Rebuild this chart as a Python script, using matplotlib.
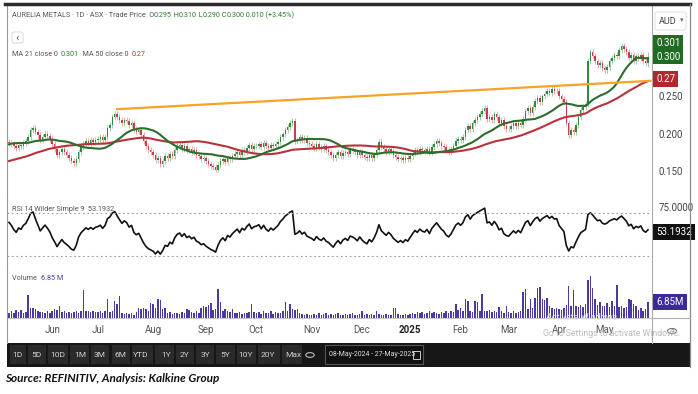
import numpy as np
import pandas as pd
import matplotlib
matplotlib.use("Agg")
import matplotlib.pyplot as plt
from matplotlib.patches import Rectangle, FancyBboxPatch, Circle
from matplotlib.lines import Line2D

plt.rcParams['font.family'] = ['Roboto', 'DejaVu Sans']

START, END = "2024-05-08", "2025-05-27"
ASX_HOLIDAYS = ["2024-06-10", "2024-12-25", "2024-12-26", "2025-01-01",
                "2025-01-27", "2025-04-18", "2025-04-21", "2025-04-25"]

# closes before the visible window, only used to warm up MA 50 / RSI
pre_close = [0.140, 0.142, 0.138, 0.141, 0.144, 0.143, 0.146, 0.145, 0.148, 0.144,
             0.142, 0.145, 0.147, 0.150, 0.148, 0.146, 0.149, 0.152, 0.150, 0.147,
             0.145, 0.148, 0.151, 0.153, 0.150, 0.149, 0.152, 0.155, 0.158,
             0.165, 0.172, 0.178, 0.182, 0.185, 0.188, 0.186, 0.190, 0.192, 0.189,
             0.187, 0.190, 0.188, 0.191, 0.189, 0.186, 0.188, 0.190, 0.187, 0.189]

close_may24 = [0.188, 0.186, 0.183, 0.181, 0.185, 0.184, 0.188, 0.190, 0.196, 0.205,
               0.208, 0.203, 0.198, 0.192, 0.196, 0.200, 0.197, 0.193]
close_jun24 = [0.186, 0.180, 0.172, 0.176, 0.180, 0.175, 0.172, 0.168, 0.163, 0.161,
               0.166, 0.176, 0.182, 0.186, 0.190, 0.188, 0.191, 0.189, 0.192]
close_jul24 = [0.193, 0.195, 0.192, 0.196, 0.208, 0.212, 0.222, 0.226, 0.222, 0.218,
               0.214, 0.219, 0.217, 0.212, 0.215, 0.206, 0.203, 0.205, 0.198, 0.190,
               0.183, 0.178, 0.175]
close_aug24 = [0.172, 0.165, 0.168, 0.160, 0.164, 0.170, 0.168, 0.173, 0.170, 0.178,
               0.183, 0.185, 0.180, 0.184, 0.178, 0.180, 0.176, 0.178, 0.172, 0.170,
               0.166, 0.167]
close_sep24 = [0.163, 0.160, 0.157, 0.155, 0.152, 0.158, 0.163, 0.166, 0.162, 0.168,
               0.166, 0.170, 0.173, 0.176, 0.172, 0.178, 0.176, 0.181, 0.185, 0.180,
               0.183]
close_oct24 = [0.184, 0.186, 0.182, 0.187, 0.183, 0.181, 0.185, 0.183, 0.186, 0.189,
               0.195, 0.199, 0.205, 0.209, 0.214, 0.217, 0.190, 0.192, 0.196, 0.191,
               0.194, 0.188, 0.186]
close_nov24 = [0.184, 0.181, 0.186, 0.182, 0.180, 0.183, 0.178, 0.176, 0.172, 0.168,
               0.172, 0.175, 0.170, 0.174, 0.176, 0.173, 0.178, 0.177, 0.175, 0.172,
               0.176]
close_dec24 = [0.172, 0.169, 0.167, 0.171, 0.168, 0.172, 0.178, 0.189, 0.182, 0.179,
               0.176, 0.180, 0.177, 0.172, 0.169, 0.166, 0.168, 0.165, 0.168, 0.166]
close_jan25 = [0.170, 0.174, 0.178, 0.176, 0.180, 0.178, 0.177, 0.180, 0.176, 0.182,
               0.186, 0.190, 0.187, 0.184, 0.182, 0.178, 0.176, 0.179, 0.184, 0.190,
               0.193]
close_feb25 = [0.191, 0.195, 0.205, 0.210, 0.206, 0.214, 0.218, 0.222, 0.226, 0.230,
               0.235, 0.220, 0.222, 0.218, 0.226, 0.222, 0.215, 0.218, 0.210, 0.207]
close_mar25 = [0.206, 0.210, 0.214, 0.211, 0.215, 0.212, 0.220, 0.230, 0.234, 0.228,
               0.236, 0.244, 0.248, 0.243, 0.250, 0.254, 0.258, 0.255, 0.260, 0.257,
               0.258]
close_apr25 = [0.250, 0.246, 0.242, 0.215, 0.198, 0.205, 0.202, 0.212, 0.222, 0.232,
               0.236, 0.240, 0.298, 0.310, 0.305, 0.298, 0.292, 0.295, 0.288]
close_may25 = [0.286, 0.290, 0.298, 0.302, 0.306, 0.304, 0.312, 0.318, 0.314, 0.310,
               0.302, 0.306, 0.298, 0.304, 0.302, 0.306, 0.298, 0.295, 0.300]

# volume, millions
vol_may24 = [2.2, 2.8, 2.0, 3.5, 2.5, 3.4, 2.0, 2.6, 10.0, 4.3, 4.5, 3.8, 2.8, 2.5, 2.4, 2.0, 2.8, 2.2]
vol_jun24 = [3.2, 4.0, 3.5, 5.3, 2.4, 2.8, 2.0, 2.6, 2.2, 2.5, 3.0, 2.2, 2.8, 12.0, 2.8, 3.0, 2.6, 3.2, 2.4]
vol_jul24 = [2.5, 3.0, 2.2, 3.0, 8.0, 2.5, 3.0, 7.5, 6.0, 9.4, 2.0, 1.8, 2.2, 1.6, 2.0, 1.5, 2.4,
             4.2, 3.8, 4.5, 4.0, 3.0, 6.5]
vol_aug24 = [6.0, 4.5, 8.0, 7.6, 4.0, 4.2, 2.0, 2.4, 1.8, 2.2, 2.0, 1.6, 2.4, 2.0, 4.0, 3.6, 2.5,
             2.2, 2.8, 2.0, 4.2, 5.0]
vol_sep24 = [4.8, 5.5, 6.5, 3.5, 4.0, 12.5, 6.7, 3.0, 4.0, 3.2, 2.5, 3.8, 2.2, 2.0, 2.4, 1.8, 2.2,
             2.0, 2.5, 6.0, 2.4]
vol_oct24 = [2.0, 2.4, 1.8, 3.0, 2.2, 2.0, 3.2, 1.8, 2.4, 2.0, 2.2, 3.0, 6.9, 3.0, 6.0, 4.0, 3.5,
             3.8, 2.0, 1.6, 1.4, 1.8, 1.5]
vol_nov24 = [1.4, 1.8, 1.2, 2.0, 1.5, 1.6, 2.2, 1.3, 1.8, 1.4, 1.6, 2.0, 1.2, 1.5, 1.8, 1.4, 1.6,
             2.2, 1.5, 1.3, 1.8]
vol_dec24 = [2.8, 1.4, 1.6, 1.2, 1.8, 1.5, 3.2, 1.6, 1.4, 1.2, 1.8, 1.5, 1.3, 4.5, 4.2, 1.6, 1.2,
             1.4, 1.8, 1.5]
vol_jan25 = [1.8, 2.2, 1.6, 2.5, 2.0, 2.4, 1.8, 2.2, 3.0, 2.0, 2.6, 2.2, 1.8, 2.4, 2.0, 2.8, 2.2,
             3.2, 2.4, 6.2, 3.5]
vol_feb25 = [4.5, 3.0, 8.0, 7.5, 3.0, 2.6, 7.2, 7.0, 3.2, 10.5, 3.0, 2.8, 3.4, 2.6, 3.0, 2.4, 4.7,
             2.8, 2.2, 5.0]
vol_mar25 = [2.5, 2.0, 2.8, 2.2, 2.4, 3.0, 11.0, 12.5, 4.0, 8.0, 4.2, 8.6, 13.0, 13.5, 8.0, 7.8,
             8.4, 5.0, 4.2, 3.8, 4.5]
vol_apr25 = [4.0, 3.5, 4.2, 5.5, 13.6, 5.0, 12.0, 5.2, 4.8, 5.5, 4.6, 6.0, 16.5, 18.0, 13.0, 8.0,
             5.6, 6.8, 5.0]
vol_may25 = [5.2, 6.5, 4.8, 7.2, 5.0, 14.0, 4.6, 5.0, 4.2, 4.8, 8.0, 7.8, 6.0, 5.2, 3.6, 4.2, 3.0,
             3.8, 6.85]

last_ohlc = {"O": 0.295, "H": 0.310, "L": 0.290, "C": 0.300}
ma21_last, ma50_last = 0.301, 0.27
rsi_last = 53.1932
vol_last = 6.85
trend_days = [45, 267]
trend_prices = [0.233, 0.271]

month_labels = ["Jun", "Jul", "Aug", "Sep", "Oct", "Nov", "Dec", "2025", "Feb", "Mar", "Apr", "May"]
toolbar = ["1D", "5D", "10D", "1M", "3M", "6M", "YTD", "1Y", "2Y", "3Y", "5Y", "10Y", "20Y", "Max"]
toolbar_x = [17, 36, 58, 80, 100, 121, 141, 166, 184, 205, 225, 246, 268, 293]

# ---------------------------------------------------------------- series
dates = pd.bdate_range(START, END)
dates = dates[~dates.isin(pd.to_datetime(ASX_HOLIDAYS))]
close = np.array(close_may24 + close_jun24 + close_jul24 + close_aug24 + close_sep24 + close_oct24
                 + close_nov24 + close_dec24 + close_jan25 + close_feb25 + close_mar25 + close_apr25
                 + close_may25)
vol = np.array(vol_may24 + vol_jun24 + vol_jul24 + vol_aug24 + vol_sep24 + vol_oct24 + vol_nov24
               + vol_dec24 + vol_jan25 + vol_feb25 + vol_mar25 + vol_apr25 + vol_may25)
assert len(close) == len(dates) == len(vol)
n = len(close)
x = np.arange(n)
full = pd.Series(pre_close + list(close))
npre = len(pre_close)
ma21 = full.rolling(21).mean().to_numpy()[npre:]
ma50 = full.rolling(50).mean().to_numpy()[npre:]
d = full.diff()
up = d.clip(lower=0).ewm(alpha=1 / 14, adjust=False).mean()
dn = (-d.clip(upper=0)).ewm(alpha=1 / 14, adjust=False).mean()
rsi = (100 - 100 / (1 + up / dn)).to_numpy()[npre:]
opn = np.concatenate([[pre_close[-1]], close[:-1]])
opn[-1] = last_ohlc["O"]

month_idx = pd.Series(x, index=dates).groupby(dates.to_period("M")).first().to_numpy()[1:]

# ---------------------------------------------------------------- layout
W, H = 698, 394
fig = plt.figure(figsize=(W / 100, H / 100), dpi=100)
fx = lambda px: px / W
fy = lambda py: 1 - py / H
L, R = 7, 652
ax = fig.add_axes([fx(L), fy(197), fx(R - L), 192 / H])
ax_rsi = fig.add_axes([fx(L), fy(266), fx(R - L), 69 / H])
ax_vol = fig.add_axes([fx(L), fy(318), fx(R - L), 52 / H])

GRAY = "#555555"
GREEN, RED, PURPLE = "#2e7d32", "#c62828", "#4a3aa3"
HDR = 5.2
for a in (ax, ax_rsi, ax_vol):
    a.set_xlim(-0.83, n + 0.67)
    a.spines["top"].set_visible(False)
    a.spines["left"].set_color("#999999")
    a.spines["right"].set_color("#aaaaaa")
    a.spines["bottom"].set_color("#dddddd")
    a.yaxis.tick_right()
    a.tick_params(axis="y", length=0, pad=5, labelsize=7, colors="#444444")
    a.tick_params(axis="x", length=0)
ax.set_xticks([]); ax_rsi.set_xticks([])

# ---------------------------------------------------------------- price panel
ax.set_ylim(0.1151, 0.3728)
WICK = 0.004
for i in range(n):
    o, c = opn[i], close[i]
    col = "#2f8a3c" if c >= o else "#cc3b47"
    lo, hi = min(o, c), max(o, c)
    if i == n - 1:
        wl, wh = last_ohlc["L"], last_ohlc["H"]
    else:
        wl, wh = lo - WICK, hi + WICK
    ax.vlines(i, wl, wh, color=col, lw=0.5, alpha=0.6)
    ax.bar(i, max(hi - lo, 0.0008), bottom=lo, width=0.62, color=col, lw=0)
ax.plot(x, ma50, color="#b8323c", lw=1.5)
ax.plot(x, ma21, color="#2b6e2b", lw=1.5)
ax.plot(trend_days, trend_prices, color="#f7a325", lw=1.6)
ax.set_yticks([0.15, 0.20, 0.25], ["0.150", "0.200", "0.250"])

# last-value boxes on the price scale
ax.annotate(f"{ma21_last:.3f}\n{last_ohlc['C']:.3f}", xy=(1, last_ohlc["C"]), xycoords=("axes fraction", "data"),
            xytext=(3, 7), textcoords="offset points", ha="left", va="center", fontsize=7, color="white",
            linespacing=1.5, bbox=dict(boxstyle="square,pad=0.3", fc="#1e6b24", ec="none"))
ax.annotate(f"{ma50_last:.2f}", xy=(1, ma50_last), xycoords=("axes fraction", "data"),
            xytext=(3, 2), textcoords="offset points", ha="left", va="center", fontsize=7, color="white",
            bbox=dict(boxstyle="square,pad=0.3", fc="#b3262e", ec="none"))


def chain(a, x0, y0, parts, size, **kw):
    t = a.text(x0, y0, parts[0][0], color=parts[0][1], fontsize=size, transform=a.transAxes,
               va="center", ha="left", **kw)
    for s, c in parts[1:]:
        t = a.annotate(s, xy=(1, 0), xycoords=t, va="bottom", ha="left", color=c, fontsize=size, **kw)
    return t


chain(ax, 0.007, 0.943, [("AURELIA METALS · 1D · ASX · Trade Price  O", GRAY), (f"{last_ohlc['O']:.3f}", GREEN),
                         (" H", GRAY), (f"{last_ohlc['H']:.3f}", GREEN), (" L", GRAY),
                         (f"{last_ohlc['L']:.3f}", GREEN), (" C", GRAY), (f"{last_ohlc['C']:.3f}", GREEN),
                         (" 0.010 (+3.45%)", GREEN)], HDR)
chain(ax, 0.007, 0.74, [("MA 21 close 0  ", GRAY), (f"{ma21_last:.3f}", GREEN),
                        ("  MA 50 close 0  ", GRAY), (f"{ma50_last:.2f}", RED)], HDR)
fig.patches.append(FancyBboxPatch((fx(12), fy(43)), fx(11), 11 / H, boxstyle="round,pad=0,rounding_size=0.004",
                                  transform=fig.transFigure, fc="white", ec="#dddddd", lw=0.8))
fig.text(fx(17.5), fy(37.5), "‹", fontsize=8, color="#555555", ha="center", va="center")

# ---------------------------------------------------------------- RSI panel
ax_rsi.set_ylim(13.4, 93.6)
ax_rsi.plot(x, rsi, color="#111111", lw=1.2)
for lvl in (25, 75):
    ax_rsi.axhline(lvl, color="#9a9a9a", lw=0.8, ls=(0, (1.5, 2.5)))
ax_rsi.set_yticks([75], ["75.0000"])
for t in ax_rsi.get_yticklabels():
    t.set_va("bottom")
ax_rsi.annotate(f"{rsi_last:.4f}", xy=(1, rsi_last), xycoords=("axes fraction", "data"),
                xytext=(3, 0), textcoords="offset points", ha="left", va="center", fontsize=7, color="white",
                bbox=dict(boxstyle="square,pad=0.3", fc="#111111", ec="none"))
ax_rsi.text(0.008, 0.826, f"RSI 14 Wilder Simple 9  {rsi_last:.4f}", transform=ax_rsi.transAxes,
            fontsize=HDR, color=GRAY, va="center", ha="left")

# ---------------------------------------------------------------- volume panel
ax_vol.set_ylim(0, 22.3)
ax_vol.bar(x, vol, width=0.62, color=PURPLE, lw=0)
ax_vol.set_yticks([])
ax_vol.spines["bottom"].set_color("#c8c8c8")
ax_vol.annotate(f"{vol_last:.2f}M", xy=(1, vol_last), xycoords=("axes fraction", "data"),
                xytext=(3, 0), textcoords="offset points", ha="left", va="center", fontsize=7, color="white",
                bbox=dict(boxstyle="square,pad=0.3", fc="#3b2a9a", ec="none"))
chain(ax_vol, 0.008, 0.75, [("Volume  ", GRAY), (f"{vol_last:.2f} M", PURPLE)], HDR)
ax_vol.set_xticks(month_idx, month_labels)
ax_vol.tick_params(axis="x", pad=5, labelsize=7, colors=GRAY)
lbl = ax_vol.get_xticklabels()[month_labels.index("2025")]
lbl.set_fontweight("bold"); lbl.set_color("#222222")

# ---------------------------------------------------------------- frame + toolbar
fig.add_artist(Line2D([fx(5), fx(690)], [fy(4), fy(4)], color="#2b2b2b", lw=2.5))
fig.add_artist(Line2D([fx(690), fx(690)], [fy(4), fy(367)], color="#8a8a8a", lw=0.9))
fig.add_artist(Line2D([fx(L), fx(L)], [fy(318), fy(343)], color="#999999", lw=0.8))
fig.add_artist(Line2D([fx(R), fx(R)], [fy(318), fy(343)], color="#aaaaaa", lw=0.8))
fig.add_artist(Line2D([fx(R), fx(690)], [fy(318), fy(318)], color="#aaaaaa", lw=0.8))

# AUD selector
fig.patches.append(FancyBboxPatch((fx(655), fy(30)), fx(31), 18 / H, boxstyle="round,pad=0,rounding_size=0.004",
                                  transform=fig.transFigure, fc="white", ec="#e3e3e3", lw=0.8))
fig.text(fx(659), fy(21), "AUD", fontsize=6.5, color="#444444", va="center")
fig.text(fx(682), fy(21), "▾", fontsize=5, color="#666666", va="center", ha="center")

# windows watermark + settings icon
fig.text(fx(546), fy(317), "Activate Windows", fontsize=6.5, color="#e6e6e6", va="center")
fig.text(fx(543), fy(333), "Go to Settings to activate Windows.", fontsize=6.3, color="#bcbcbc", va="center")
fig.patches.append(Circle((fx(672), fy(331)), 4.5 / W, transform=fig.transFigure, fc="none", ec="#777777", lw=0.8))
fig.text(fx(672), fy(331), "8", fontsize=4.5, color="#777777", ha="center", va="center")

fig.patches.append(Rectangle((fx(7), fy(367)), fx(683), 24 / H, transform=fig.transFigure, fc="#171717", ec="none"))
edges = [9] + [(a + b) / 2 for a, b in zip(toolbar_x[:-1], toolbar_x[1:])] + [303]
for i, lab in enumerate(toolbar):
    l, r = edges[i] + 1, edges[i + 1] - 1
    fig.patches.append(Rectangle((fx(l), fy(364)), fx(r - l), 19 / H, transform=fig.transFigure,
                                 fc="#2a2a2a", ec="none"))
    fig.text(fx(toolbar_x[i]), fy(355), lab, fontsize=6, color="#cfcfcf", ha="center", va="center")
fig.patches.append(Circle((fx(310), fy(355)), 4.2 / W, transform=fig.transFigure, fc="none", ec="#bbbbbb", lw=0.8))
fig.patches.append(Rectangle((fx(325), fy(364)), fx(98), 19 / H, transform=fig.transFigure,
                             fc="#111111", ec="#555555", lw=0.8))
fig.text(fx(329), fy(355), "08-May-2024 - 27-May-2025", fontsize=5.0, color="#dddddd", va="center")
fig.patches.append(Rectangle((fx(413), fy(359)), fx(7), 8 / H, transform=fig.transFigure,
                             fc="none", ec="#cccccc", lw=0.7))

fig.text(fx(5), fy(378), "Source: REFINITIV, Analysis: Kalkine Group", fontsize=8.5, fontweight="bold",
         style="italic", color="#111111", va="center", family=["Lato", "DejaVu Sans"])

fig.savefig("out.png", dpi=100)
